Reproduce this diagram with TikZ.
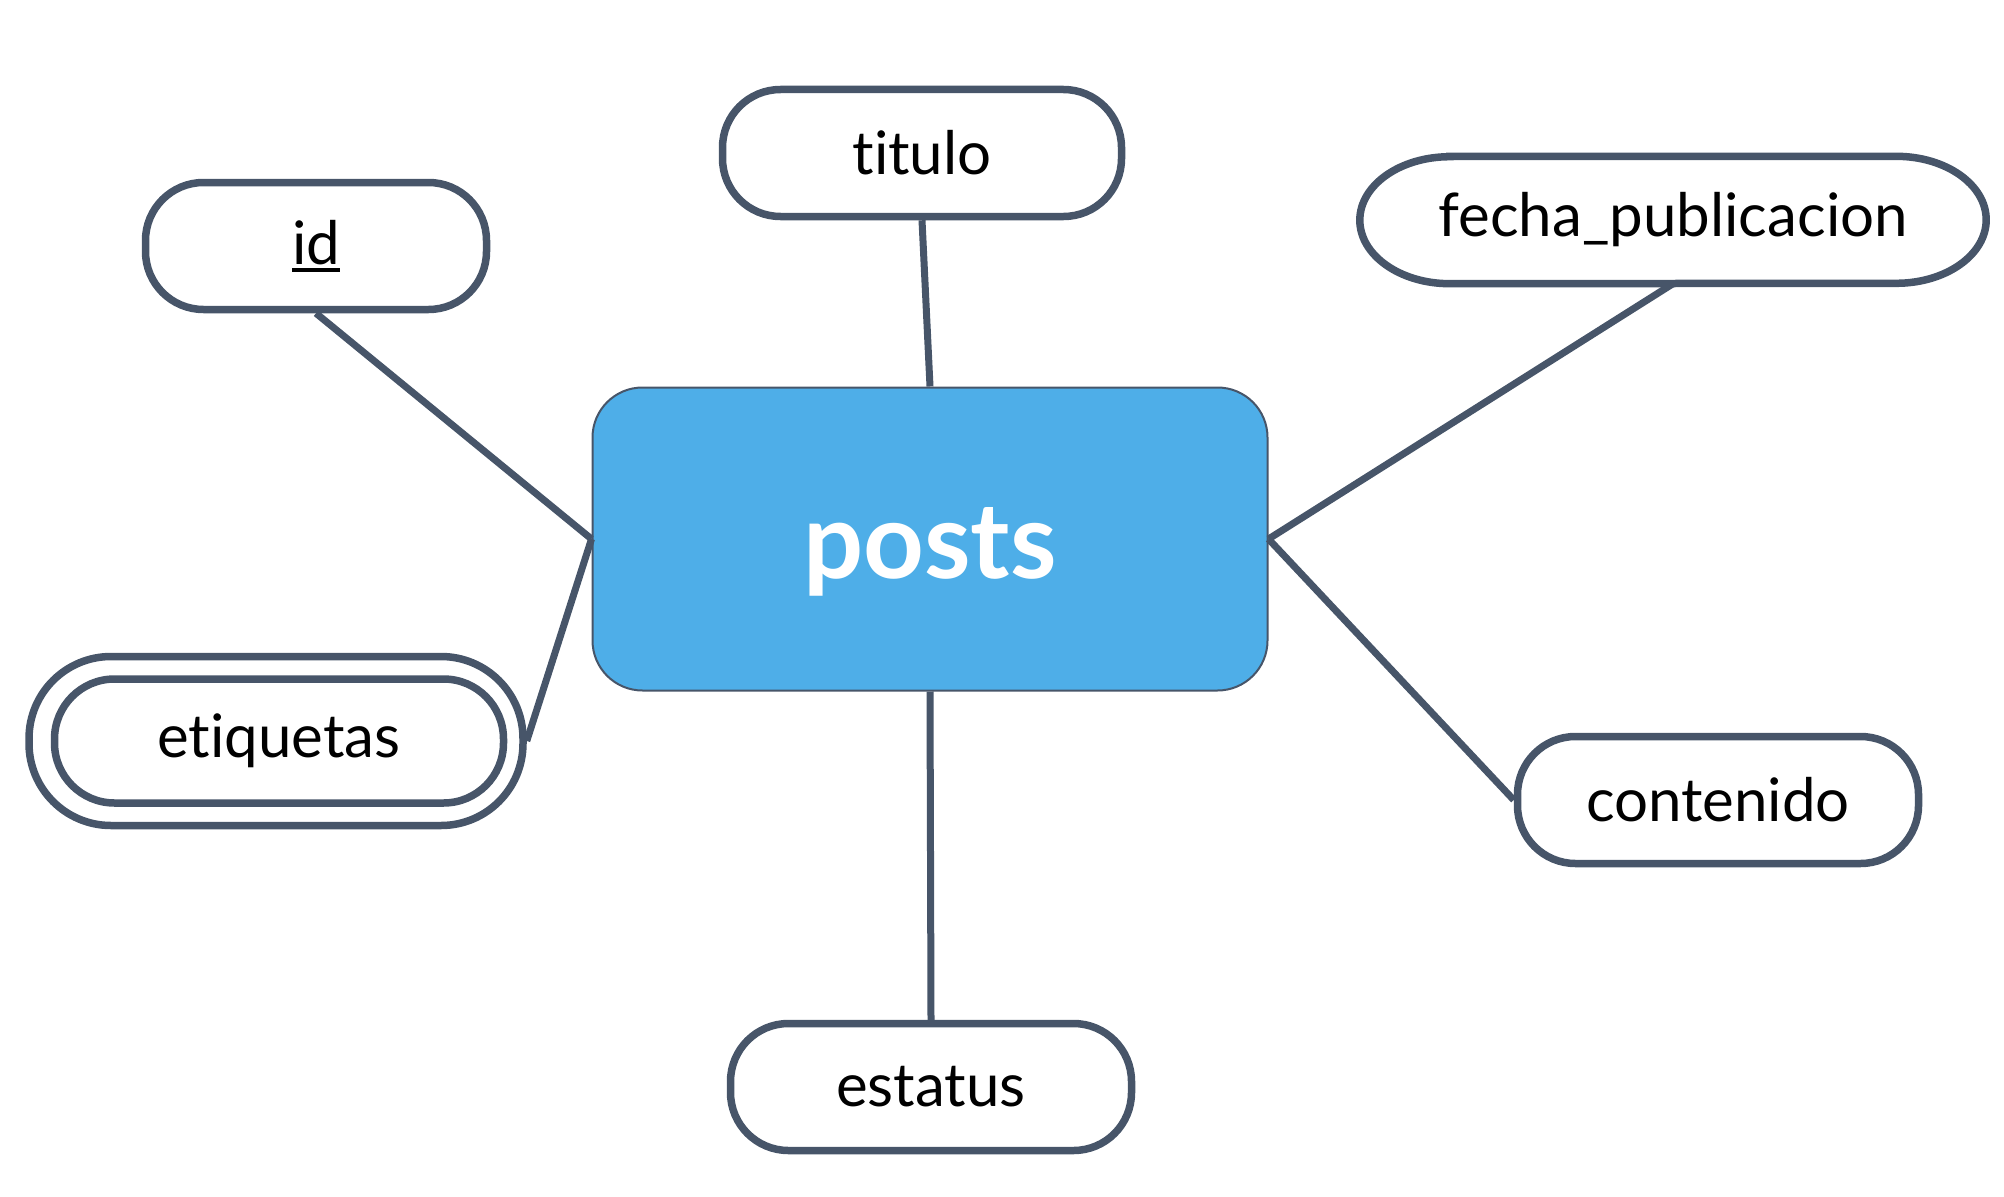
\documentclass[tikz,border=0pt]{standalone}
\usepackage{fontspec}
\setmainfont{Lato}[Ligatures={NoCommon}]
\usetikzlibrary{calc}
\definecolor{edge}{HTML}{475569}
\definecolor{entfill}{HTML}{4EAEE8}
\newcommand{\keyline}[1]{\setbox0\hbox{#1}\rlap{\rule[-8pt]{\wd0}{4pt}}\box0}
\tikzset{
  attr/.style={draw=edge, line width=7.5pt, fill=white, rounded corners=58pt,
    minimum height=127pt, inner sep=0pt, font=\fontsize{60}{62}\selectfont},
  entity/.style={draw=edge, line width=2pt, fill=entfill, rounded corners=50pt,
    minimum width=675pt, minimum height=303pt, inner sep=0pt, text=white,
    text height=78pt, text depth=0pt,
    font=\fontsize{106}{110}\bfseries\selectfont},
  conn/.style={draw=edge, line width=7pt}
}
\begin{document}
\begin{tikzpicture}[x=1pt,y=-1pt]
\useasboundingbox (0,0) rectangle (2004,1196);
% entity
\node[entity] (posts) at (930,539) {posts};
% attributes
\node[attr, minimum width=341pt] (id) at (316,246) {\keyline{id}};
\node[attr, minimum width=399pt] (titulo) at (922,153) {titulo};
\node[draw=none, minimum width=626pt, minimum height=127pt, inner sep=0pt,
  font=\fontsize{60}{62}\selectfont] (fecha) at (1673,220) {fecha\_publicacion};
\draw[edge, line width=7.5pt]
  ($(fecha.north west)+(90,0)$) -- ($(fecha.north east)+(-90,0)$)
  arc[start angle=90, end angle=0, x radius=90, y radius=-63.5]
  arc[start angle=0, end angle=-90, x radius=90, y radius=-63.5]
  -- ($(fecha.south west)+(90,0)$)
  arc[start angle=-90, end angle=-180, x radius=90, y radius=-63.5]
  arc[start angle=180, end angle=90, x radius=90, y radius=-63.5] -- cycle;
\node[attr, minimum width=494pt, minimum height=169pt, rounded corners=82pt] (etqo) at (276,741) {};
\node[attr, minimum width=449pt, minimum height=124pt, rounded corners=60pt] (etiquetas) at (279,741) {etiquetas};
\node[attr, minimum width=401pt] (contenido) at (1718,800) {contenido};
\node[attr, minimum width=401pt] (estatus) at (931,1087) {estatus};
% connectors
\draw[conn] (id.south) -- (posts.west);
\draw[conn] (titulo.south) -- (posts.north);
\draw[conn] (fecha.south) -- (posts.east);
\draw[conn] (contenido.west) -- (posts.east);
\draw[conn] (estatus.north) -- (posts.south);
\draw[conn] (etqo.east) -- (posts.west);
\end{tikzpicture}
\end{document}
